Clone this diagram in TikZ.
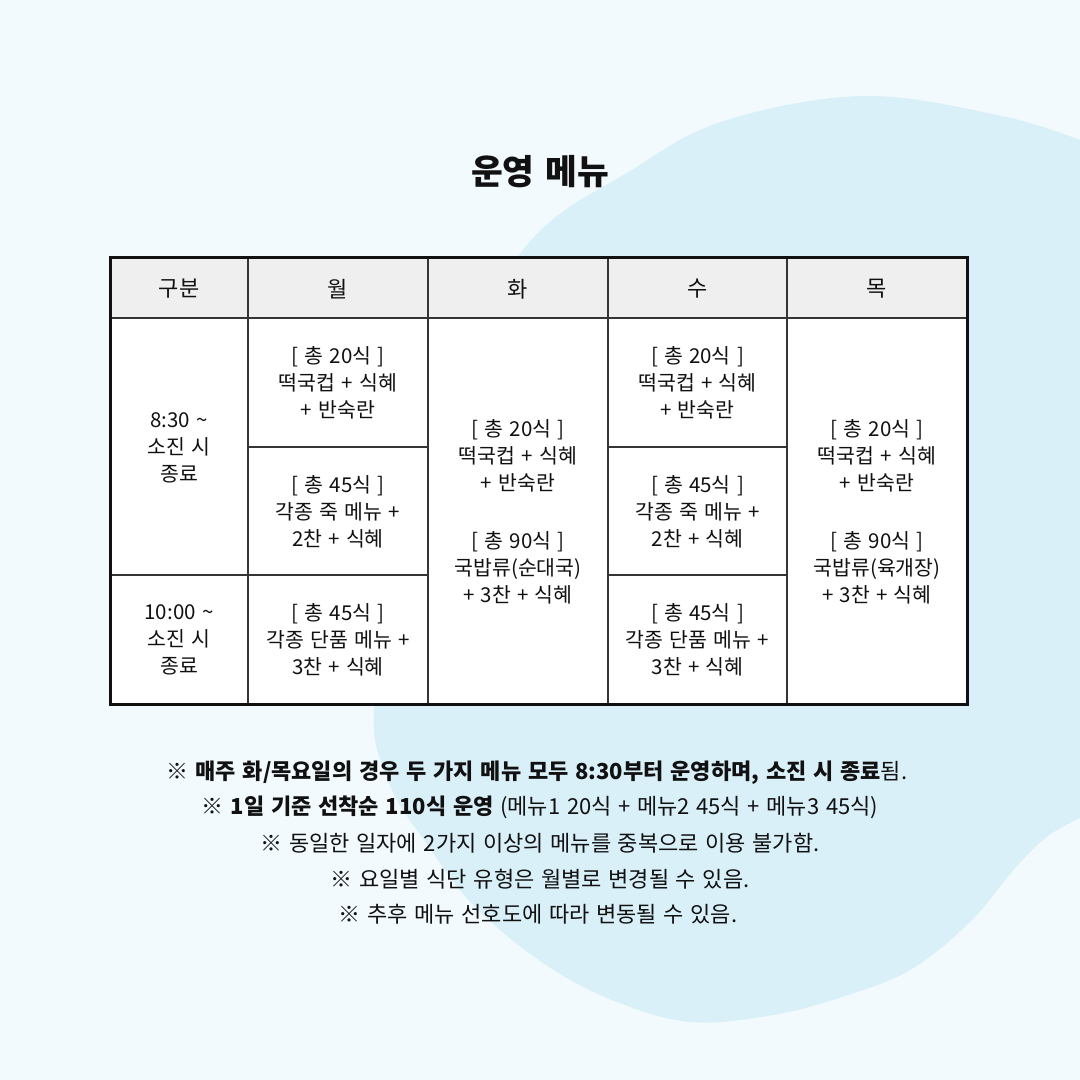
\documentclass[tikz,border=0pt]{standalone}
\usepackage{fontspec}
\setmainfont{Noto Sans CJK KR}[WordSpace=1.35]
\definecolor{bgc}{RGB}{242,250,253}
\definecolor{blobc}{RGB}{217,240,249}
\definecolor{headc}{RGB}{239,239,239}
\definecolor{txt}{RGB}{17,17,17}
\newcommand{\LB}{{[}}
\newcommand{\RB}{{]}}
\tikzset{
  cell/.style={align=center, text=txt, font=\fontsize{20.5}{27}\selectfont, inner sep=0pt},
  headcell/.style={text=txt, font=\fontsize{22}{27}\selectfont, inner sep=0pt},
  note/.style={text=txt, font=\fontsize{22}{26}\selectfont, inner sep=0pt},
  grid/.style={draw=txt!85, line width=1.3pt},
}
\begin{document}
\begin{tikzpicture}[x=1pt,y=-1pt]
\useasboundingbox (0,0) rectangle (1080,1080);
\fill[bgc] (0,0) rectangle (1080,1080);
\fill[blobc] plot[smooth, tension=0.6] coordinates {(1080,140) (1002,116) (865,96) (727,120) (635,168) (520,254) (430,450) (376,690) (388,780) (429,847) (475,907) (543,963) (612,1000) (690,1022) (773,1015) (842,997) (910,970) (970,922) (1016,867) (1048,836) (1080,818)} -- cycle;

\node[font=\bfseries\fontsize{34.5}{40}\selectfont, text=txt] (title) at (540,172) {운영 메뉴};

% table
\fill[white] (110,257) rectangle (967,704);
\fill[headc] (110,257) rectangle (967,318);
\draw[grid] (110,318) -- (967,318);
\draw[grid] (248,257) -- (248,704);
\draw[grid] (428,257) -- (428,704);
\draw[grid] (608,257) -- (608,704);
\draw[grid] (787,257) -- (787,704);
\draw[grid] (110,575) -- (428,575);
\draw[grid] (248,447) -- (428,447);
\draw[grid] (608,447) -- (787,447);
\draw[grid] (608,575) -- (787,575);
\draw[txt, line width=3pt] (110,257) rectangle (967,704);

\node[headcell] (h0) at (179,289) {구분};
\node[headcell] (h1) at (338,289) {월};
\node[headcell] (h2) at (518,289) {화};
\node[headcell] (h3) at (697.5,289) {수};
\node[headcell] (h4) at (877,289) {목};

\node[cell] (t1) at (179,448) {8:30 \textasciitilde\\소진 시\\종료};
\node[cell] (t2) at (179,640) {10:00 \textasciitilde\\소진 시\\종료};

\node[cell] (m1) at (338,383) {\LB{} 총 20식 \RB\\떡국컵 + 식혜\\+ 반숙란};
\node[cell] (m2) at (338,512) {\LB{} 총 45식 \RB\\각종 죽 메뉴 +\\2찬 + 식혜};
\node[cell] (m3) at (338,640) {\LB{} 총 45식 \RB\\각종 단품 메뉴 +\\3찬 + 식혜};

\node[cell] (tu) at (518,512) {\LB{} 총 20식 \RB\\떡국컵 + 식혜\\+ 반숙란\\[4pt]\\\LB{} 총 90식 \RB\\국밥류(순대국)\\+ 3찬 + 식혜};

\node[cell] (w1) at (697.5,383) {\LB{} 총 20식 \RB\\떡국컵 + 식혜\\+ 반숙란};
\node[cell] (w2) at (697.5,512) {\LB{} 총 45식 \RB\\각종 죽 메뉴 +\\2찬 + 식혜};
\node[cell] (w3) at (697.5,640) {\LB{} 총 45식 \RB\\각종 단품 메뉴 +\\3찬 + 식혜};

\node[cell] (th) at (877,512) {\LB{} 총 20식 \RB\\떡국컵 + 식혜\\+ 반숙란\\[4pt]\\\LB{} 총 90식 \RB\\국밥류(육개장)\\+ 3찬 + 식혜};

% notes
\node[note] (n1) at (537,773) {\textbf{※ 매주 화/목요일의 경우 두 가지 메뉴 모두 8:30부터 운영하며, 소진 시 종료}됨.};
\node[note] (n2) at (540,807) {\textbf{※ 1일 기준 선착순 110식 운영} (메뉴1 20식 + 메뉴2 45식 + 메뉴3 45식)};
\node[note] (n3) at (540,843) {※ 동일한 일자에 2가지 이상의 메뉴를 중복으로 이용 불가함.};
\node[note] (n4) at (540,879) {※ 요일별 식단 유형은 월별로 변경될 수 있음.};
\node[note] (n5) at (538,914) {※ 추후 메뉴 선호도에 따라 변동될 수 있음.};
\end{tikzpicture}
\end{document}
